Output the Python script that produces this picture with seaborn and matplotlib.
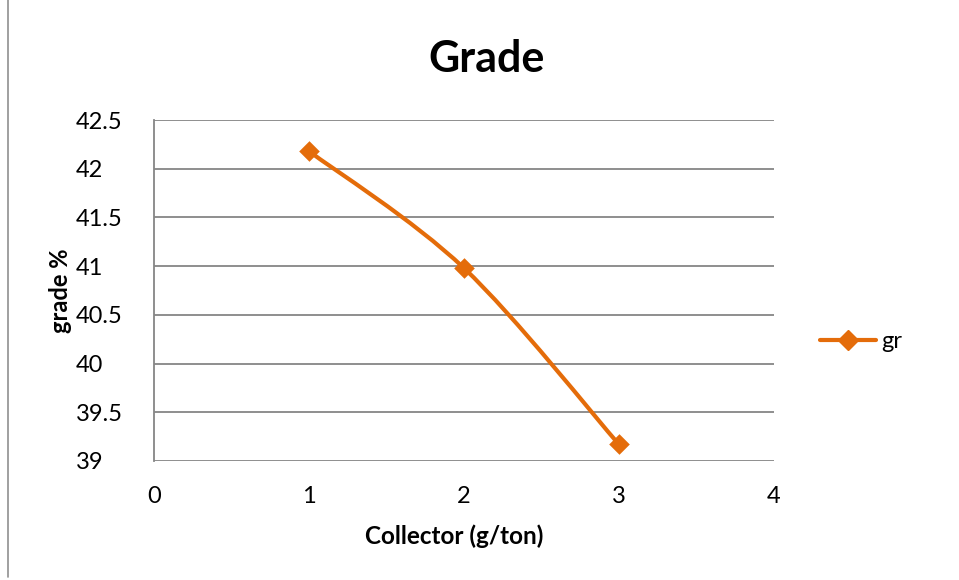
import numpy as np
import pandas as pd
import matplotlib
matplotlib.use("Agg")
import matplotlib.pyplot as plt
from matplotlib.path import Path
from matplotlib.patches import PathPatch
from matplotlib.lines import Line2D
import seaborn as sns

# ---- data ----
collector = [1, 2, 3]
grade = [42.18, 40.98, 39.17]
series_name = "gr"
title = "Grade"
x_label = "Collector (g/ton)"
y_label = "grade %"
x_ticks = [0, 1, 2, 3, 4]
y_ticks = [39, 39.5, 40, 40.5, 41, 41.5, 42, 42.5]
y_tick_labels = ["39", "39.5", "40", "40.5", "41", "41.5", "42", "42.5"]

df = pd.DataFrame({"collector": collector, "grade": grade})

sns.set_style("white")
plt.rcParams["font.family"] = ["Lato", "DejaVu Sans"]

color = "#E46C0A"
grid_color = "#868686"

fig = plt.figure(figsize=(9.59, 5.80), dpi=100)
ax = fig.add_axes([0.1606, 0.2052, 0.807 - 0.1606, 0.7931 - 0.2052])

# smoothed line (Excel-style Bezier through the data points)
xs = np.array(collector, dtype=float)
ys = np.array(grade, dtype=float)
n = len(xs)
verts = [(xs[0], ys[0])]
codes = [Path.MOVETO]
for i in range(n - 1):
    p0 = np.array([xs[max(i - 1, 0)], ys[max(i - 1, 0)]])
    p1 = np.array([xs[i], ys[i]])
    p2 = np.array([xs[i + 1], ys[i + 1]])
    p3 = np.array([xs[min(i + 2, n - 1)], ys[min(i + 2, n - 1)]])
    c1 = p1 + (p2 - p0) / 6.0
    c2 = p2 - (p3 - p1) / 6.0
    verts += [tuple(c1), tuple(c2), tuple(p2)]
    codes += [Path.CURVE4] * 3
patch = PathPatch(Path(verts, codes), facecolor="none", edgecolor=color,
                  lw=3, capstyle="round", joinstyle="round", zorder=3)
ax.add_patch(patch)

sns.scatterplot(data=df, x="collector", y="grade", ax=ax, marker="D",
                s=110, color=color, edgecolor=color, linewidth=0, zorder=4,
                legend=False)

ax.set_xlim(0, 4)
ax.set_ylim(39, 42.5)
ax.set_xticks(x_ticks)
ax.set_yticks(y_ticks)
ax.set_yticklabels(y_tick_labels)
ax.tick_params(axis="both", length=0, labelsize=17, labelcolor="black")
ax.tick_params(axis="x", pad=18)
ax.tick_params(axis="y", pad=56)
for lbl in ax.get_yticklabels():
    lbl.set_ha("left")

ax.grid(axis="y", color=grid_color, lw=1.3)
ax.grid(axis="x", visible=False)
for s in ["top", "right", "bottom"]:
    ax.spines[s].set_visible(False)
ax.spines["left"].set_color(grid_color)
ax.spines["left"].set_linewidth(1.3)

ax.set_title(title, fontsize=31, fontweight="bold", x=0.537, y=1.115,
             color="black")
ax.set_xlabel(x_label, fontsize=17.5, fontweight="bold", color="black")
ax.xaxis.set_label_coords(0.485, -0.185)
ax.set_ylabel(y_label, fontsize=17, fontweight="bold", color="black")
ax.yaxis.set_label_coords(-0.132, 0.5)

handle = Line2D([0], [0], color=color, lw=3, marker="D", markersize=10,
                solid_capstyle="round")
leg = ax.legend([handle], [series_name], loc="center left",
                bbox_to_anchor=(1.074, 0.35), frameon=False, fontsize=17,
                handlelength=2.4, handletextpad=0.2, borderpad=0,
                borderaxespad=0)
for t in leg.get_texts():
    t.set_color("black")

fig.add_artist(Line2D([0.0085, 0.0085], [0.005, 1.0], color="#909090", lw=1.2))

fig.savefig("out.png", dpi=100)
